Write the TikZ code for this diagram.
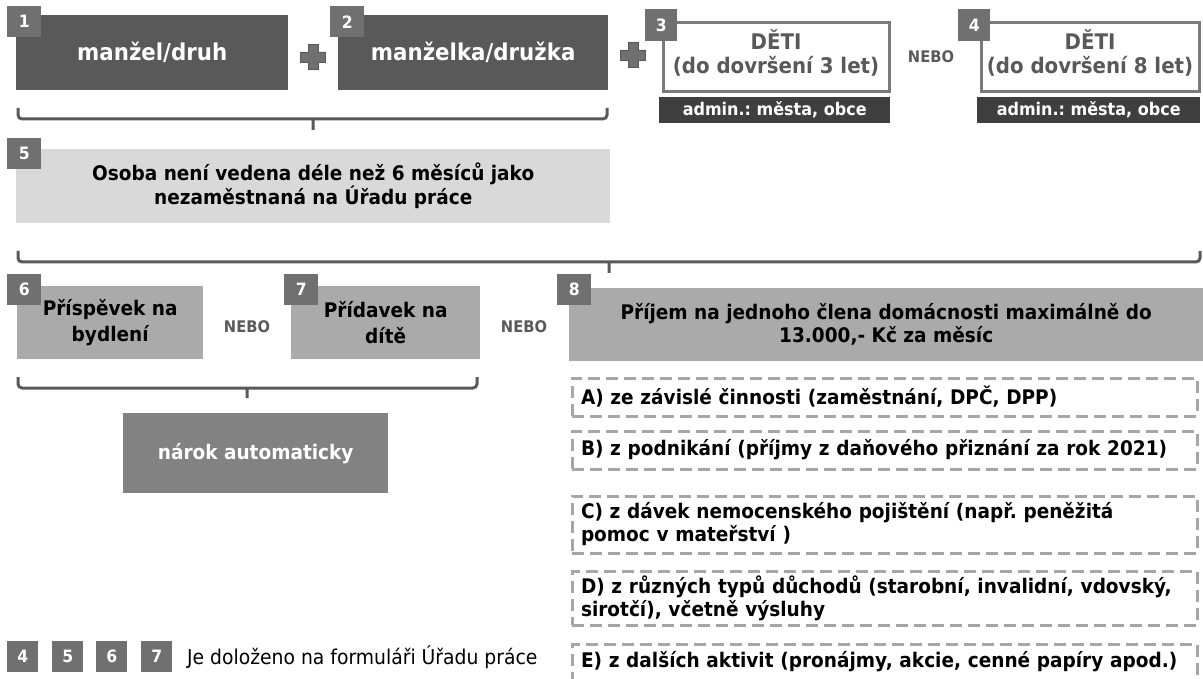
\documentclass[tikz,border=0pt]{standalone}
\usepackage{fontspec}
\setmainfont{DejaVu Sans}[FakeStretch=0.92]
\frenchspacing
\definecolor{boxdark}{RGB}{89,89,89}
\definecolor{badgegray}{RGB}{112,112,112}
\definecolor{boxlight}{RGB}{217,217,217}
\definecolor{boxmid}{RGB}{170,170,170}
\definecolor{boxgray}{RGB}{130,130,130}
\definecolor{admindark}{RGB}{63,63,63}
\definecolor{linegray}{RGB}{122,122,122}
\definecolor{dashgray}{RGB}{166,166,166}
\newcommand\bigfont{\fontsize{23.2}{24}\selectfont\bfseries}
\newcommand\detifont{\fontsize{21.5}{24}\selectfont\bfseries}
\newcommand\midfont{\fontsize{20.1}{23}\selectfont\bfseries}
\newcommand\smallfont{\fontsize{17.4}{19}\selectfont\bfseries}
\tikzset{
  badge/.style={fill=badgegray, text=white, font=\fontsize{17}{18}\selectfont\bfseries,
    minimum width=34, minimum height=31, inner sep=0pt, anchor=north west},
  box/.style={anchor=north west, inner sep=0pt, align=center},
  nebo/.style={text=boxdark, font=\fontsize{16}{18}\selectfont\bfseries},
  brace/.style={draw=boxdark, line width=3pt, rounded corners=4pt},
  dashbox/.style={draw=dashgray, line width=3pt, dash pattern=on 12pt off 6pt,
    anchor=north west, minimum width=625, inner xsep=9pt, text width=607,
    align=left, font=\midfont},
  plusmark/.pic={\filldraw[fill=badgegray, draw=boxdark, line width=0.8pt]
    (-5,-12.5) -- (5,-12.5) -- (5,-5) -- (12.5,-5) -- (12.5,5) -- (5,5) -- (5,12.5)
    -- (-5,12.5) -- (-5,5) -- (-12.5,5) -- (-12.5,-5) -- (-5,-5) -- cycle;}
}
\begin{document}
\begin{tikzpicture}[x=1pt, y=-1pt]
  \useasboundingbox (0,0) rectangle (1203,679);
  \clip (0,0) rectangle (1203,679);
  % top row
  \node (m1) [box, fill=boxdark, text=white, font=\bigfont, minimum width=272, minimum height=75] at (16,15) {manžel/druh};
  \node (n1) [badge] at (7,6) {1};
  \pic at (313,57) {plusmark};
  \node (m2) [box, fill=boxdark, text=white, font=\bigfont, minimum width=270, minimum height=75] at (338,15) {manželka/družka};
  \node (n2) [badge] at (330,6) {2};
  \pic at (633,55) {plusmark};
  \node (d3) [box, draw=linegray, line width=3pt, fill=white, minimum width=226, minimum height=69] at (661.5,21.5) {};
  \node (t3) [text=boxdark, font=\detifont, align=center] at ([yshift=5pt]d3.center) {DĚTI\\(do dovršení 3 let)};
  \node (n3) [badge, minimum width=32, minimum height=32] at (645,9) {3};
  \node (a3) [box, fill=admindark, text=white, font=\smallfont, minimum width=231, minimum height=26] at (659,97) {admin.: města, obce};
  \node (or1) [nebo] at (931,57) {NEBO};
  \node (d4) [box, draw=linegray, line width=3pt, fill=white, minimum width=218, minimum height=69] at (979.5,21.5) {};
  \node (t4) [text=boxdark, font=\detifont, align=center] at ([yshift=5pt]d4.center) {DĚTI\\(do dovršení 8 let)};
  \node (n4) [badge, minimum width=32, minimum height=32] at (958,9) {4};
  \node (a4) [box, fill=admindark, text=white, font=\smallfont, minimum width=223, minimum height=26] at (977,97) {admin.: města, obce};
  \draw[brace] (18,108) -- (18,119) -- (607,119) -- (607,108)
               (313,119) -- (313,130);
  % unemployment
  \node (m5) [box, fill=boxlight, font=\fontsize{20.1}{24}\selectfont\bfseries, minimum width=594, minimum height=74] at (16,149) {Osoba není vedena déle než 6 měsíců jako\\nezaměstnaná na Úřadu práce};
  \node (n5) [badge] at (7,138) {5};
  \draw[brace] (18,251) -- (18,262) -- (1200,262) -- (1200,251)
               (609,262) -- (609,273);
  % benefits or income
  \node (m6) [box, fill=boxmid, font=\fontsize{20.1}{26}\selectfont\bfseries, minimum width=186, minimum height=73] at (17,286) {Příspěvek na\\bydlení};
  \node (n6) [badge] at (7,274) {6};
  \node (or2) [nebo] at (247,327) {NEBO};
  \node (m7) [box, fill=boxmid, font=\fontsize{20.1}{26}\selectfont\bfseries, minimum width=189, minimum height=73] at (291,286) {Přídavek na\\dítě};
  \node (n7) [badge] at (284,274) {7};
  \node (or3) [nebo] at (524,327) {NEBO};
  \node (m8) [box, fill=boxmid, font=\midfont, minimum width=634, minimum height=73] at (569,288) {Příjem na jednoho člena domácnosti maximálně do\\13.000,- Kč za měsíc};
  \node (n8) [badge] at (557,274) {8};
  \draw[brace] (18,377) -- (18,388) -- (477,388) -- (477,377)
               (247,388) -- (247,398);
  \node (auto) [box, fill=boxgray, text=white, font=\midfont, minimum width=265, minimum height=80] at (123,413) {nárok automaticky};
  % kinds of income
  \node (ia) [dashbox, minimum height=38] at (570.5,376.5) {A) ze závislé činnosti (zaměstnání, DPČ, DPP)};
  \node (ib) [dashbox, minimum height=38] at (570.5,429.5) {B) z podnikání (příjmy z daňového přiznání za rok 2021)};
  \node (ic) [dashbox, minimum height=57] at (570.5,494.5) {C) z dávek nemocenského pojištění (např. peněžitá\\pomoc v mateřství )};
  \node (id) [dashbox, minimum height=54] at (570.5,569.5) {D) z různých typů důchodů (starobní, invalidní, vdovský,\\sirotčí), včetně výsluhy};
  \node (ie) [dashbox, minimum height=36] at (570.5,642.5) {E) z dalších aktivit (pronájmy, akcie, cenné papíry apod.)};
  % legend
  \foreach \n/\x in {4/7,5/52,6/96,7/141}
    \node (l\n) [badge, minimum width=31, minimum height=31] at (\x,641) {\n};
  \node (legend) [anchor=west, inner sep=0pt, font=\fontsize{20.4}{22}\selectfont] at (187,657) {Je doloženo na formuláři Úřadu práce};
\end{tikzpicture}
\end{document}
